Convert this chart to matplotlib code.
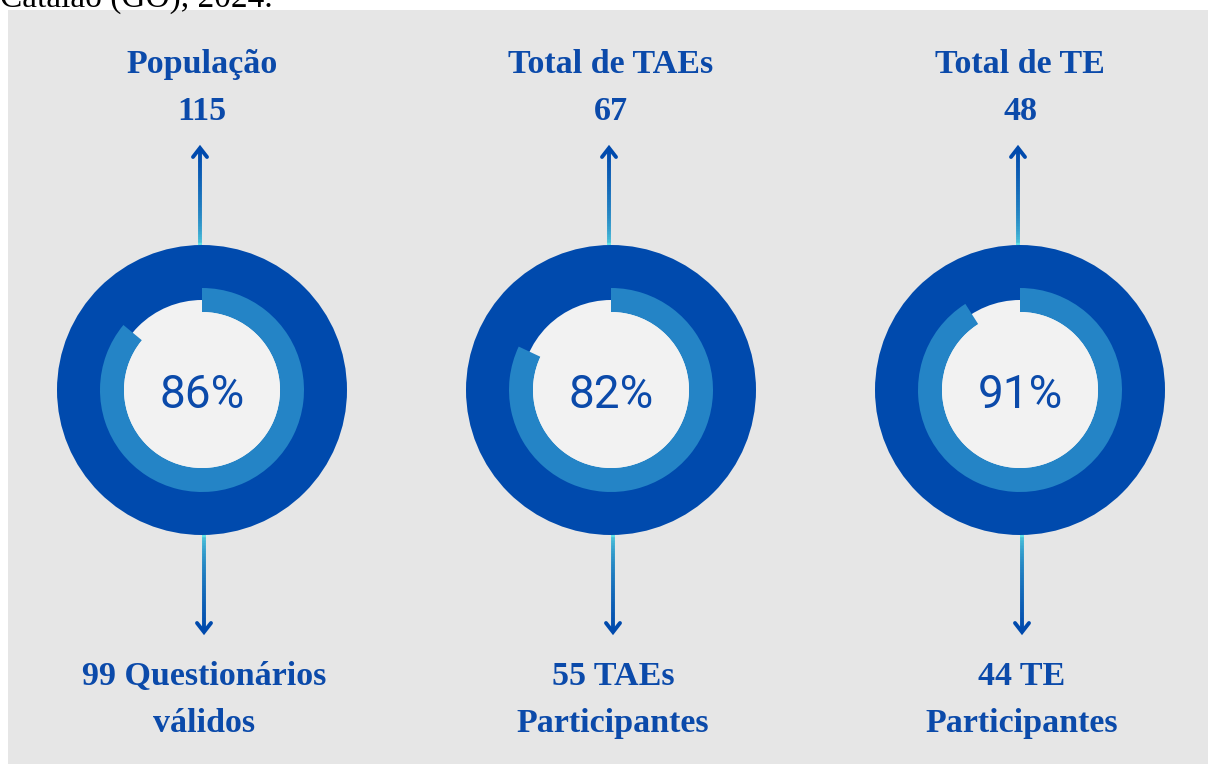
"""Infographic: population, respondents and response rate per group."""

import matplotlib.pyplot as plt
import numpy as np
from matplotlib.collections import LineCollection
from matplotlib.colors import to_rgb
from matplotlib.patches import Circle, Rectangle, Wedge

W, H = 1208, 764

titles = ["População", "Total de TAEs", "Total de TE"]
totals = [115, 67, 48]
counts = [99, 55, 44]
bottom_labels = [("Questionários", "válidos"), ("TAEs", "Participantes"), ("TE", "Participantes")]
percents = [86, 82, 91]

DARK = "#004aad"
ARC = "#2484c6"
INNER = "#f2f2f2"
PANEL = "#e6e6e6"
TEXT = "#0b4aaa"
CYAN = "#5ce1e6"

centers_x = [202, 611, 1020]
cy = H - 390


def gradient_line(ax, x, y0, y1, c0, c1, n=60):
    # colour goes from c0 (at y0, next to the circle) to c1 (at the tip)
    ys = np.linspace(y0, y1, n + 1)
    segs = [[(x, ys[i]), (x, ys[i + 1])] for i in range(n)]
    a, b = np.array(to_rgb(c0)), np.array(to_rgb(c1))
    cols = [a + (b - a) * t for t in np.linspace(0, 1, n) ** 0.45]
    ax.add_collection(LineCollection(segs, colors=cols, linewidths=2.8, capstyle="butt"))


def chevron(ax, x, tip, direction):
    # direction: +1 points up, -1 points down
    ax.plot([x - 7, x, x + 7], [tip - 9 * direction, tip, tip - 9 * direction],
            color=DARK, lw=2.8, solid_capstyle="round", solid_joinstyle="miter")


fig = plt.figure(figsize=(W / 100, H / 100), dpi=100)
ax = fig.add_axes([0, 0, 1, 1])
ax.set_xlim(0, W)
ax.set_ylim(0, H)
ax.axis("off")
fig.patch.set_facecolor("white")

ax.add_patch(Rectangle((8, 0), W - 8, H - 10, facecolor=PANEL, edgecolor="none"))
ax.text(0, H - 7, "Catalão (GO), 2024.", fontsize=24, family="Liberation Serif",
        color="black", va="baseline", ha="left")

serif = dict(family="Liberation Serif", fontweight="bold", fontsize=24.5,
             color=TEXT, ha="center", va="baseline")

for i, cx in enumerate(centers_x):
    p = percents[i]
    ax.add_patch(Circle((cx, cy), 145, facecolor=DARK, edgecolor="none"))
    ax.add_patch(Circle((cx, cy), 90, facecolor=INNER, edgecolor="none"))
    ax.add_patch(Wedge((cx, cy), 102, 90 - 360 * p / 100, 90, width=24,
                       facecolor=ARC, edgecolor="none"))
    ax.add_patch(Circle((cx, cy), 78, facecolor=INNER, edgecolor="none"))
    ax.text(cx, cy - 18, f"{p}%", fontsize=33, family="Roboto", fontweight="normal",
            color=TEXT, ha="center", va="baseline")

    # top arrow: cyan near circle, dark at tip
    tx = cx - 2
    gradient_line(ax, tx, H - 245, H - 149, CYAN, DARK)
    chevron(ax, tx, H - 148, +1)
    # bottom arrow
    bx = cx + 2
    gradient_line(ax, bx, H - 535, H - 631, CYAN, DARK)
    chevron(ax, bx, H - 632, -1)

    ax.text(cx, H - 73, titles[i], **serif)
    ax.text(cx, H - 120, str(totals[i]), **serif)
    first, second = bottom_labels[i]
    ax.text(cx + 2, H - 685, f"{counts[i]} {first}", **serif)
    ax.text(cx + 2, H - 732, second, **serif)

fig.savefig("out.png", dpi=100, facecolor=fig.get_facecolor())
